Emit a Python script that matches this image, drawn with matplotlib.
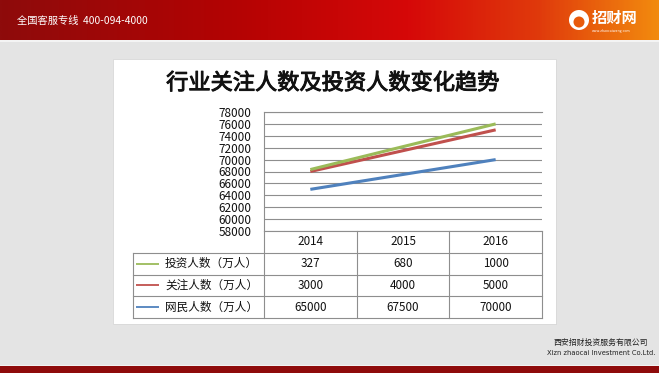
import numpy as np
import matplotlib
matplotlib.use("Agg")
import matplotlib.pyplot as plt
import matplotlib.patheffects as pe
from matplotlib.colors import LinearSegmentedColormap
from matplotlib.patches import Rectangle, Circle

plt.rcParams['font.family'] = ['Noto Sans CJK SC', 'DejaVu Sans']

# ---------------- data ----------------
years = ["2014", "2015", "2016"]
series_names = ["投资人数（万人）", "关注人数（万人）", "网民人数（万人）"]
touzi = [327, 680, 1000]       # 投资人数
guanzhu = [3000, 4000, 5000]   # 关注人数
wangmin = [65000, 67500, 70000]  # 网民人数
yticks = list(range(58000, 78001, 2000))
title = "行业关注人数及投资人数变化趋势"
header_text = "全国客服专线  400-094-4000"
company_cn = "西安招财投资服务有限公司"
company_en = "Xizn zhaocai Investment Co.Ltd."

colors = {"touzi": "#9bbb59", "guanzhu": "#c0504d", "wangmin": "#4f81bd"}

W, H = 659, 373
fig = plt.figure(figsize=(W / 100, H / 100), dpi=100)
fig.patch.set_facecolor("#e4e4e4")


def px_axes(x0, y0, x1, y1, **kw):
    return fig.add_axes([x0 / W, 1 - y1 / H, (x1 - x0) / W, (y1 - y0) / H], **kw)


# ---------------- slide decoration ----------------
bg = px_axes(0, 0, W, H)
bg.set_xlim(0, W)
bg.set_ylim(H, 0)
bg.axis("off")
bg.set_zorder(-5)

# header gradient
hdr = px_axes(0, 0, W, 40)
cmap = LinearSegmentedColormap.from_list(
    "hdr", [(0.0, "#8e0b0b"), (0.35, "#b30303"), (0.62, "#d60808"),
            (0.82, "#e03a0c"), (1.0, "#f28a0e")])
grad = np.linspace(0, 1, 400).reshape(1, -1)
hdr.imshow(grad, aspect="auto", cmap=cmap, extent=(0, W, 40, 0))
hdr.set_xlim(0, W)
hdr.set_ylim(40, 0)
hdr.axis("off")
hdr.text(17, 21, header_text, color="white", fontsize=7.4, va="center", ha="left")
# logo
hdr.add_patch(Circle((579, 20), 10, facecolor="white", edgecolor="none"))
hdr.add_patch(Circle((579, 22), 5.5, facecolor="#e85a0c", edgecolor="none"))
hdr.text(592, 18, "招财网", color="white", fontsize=11, fontweight="bold", va="center", ha="left")
hdr.text(592, 31, "www.zhaocaiwang.com", color="white", fontsize=2.5, va="center", ha="left")

bg.add_patch(Rectangle((0, 40), W, 2, facecolor="#f4f4f4", edgecolor="none"))
# bottom bar
bg.add_patch(Rectangle((0, 366), W, 7, facecolor="#8e0b0b", edgecolor="none"))
bg.add_patch(Rectangle((0, 365), W, 1, facecolor="#f2f2f2", edgecolor="none"))
bg.text(601, 342, company_cn, fontsize=5.7, ha="center", va="center", color="#222222")
bg.text(601, 353, company_en, fontsize=4.9, ha="center", va="center", color="#222222",
        family=["DejaVu Sans"])

# white chart box with faint shadow
bg.add_patch(Rectangle((114, 60), 443, 265, facecolor="#cfcfcf", edgecolor="none"))
bg.add_patch(Rectangle((113, 59), 443, 265, facecolor="white", edgecolor="#d8d8d8", lw=0.6))
bg.text(333, 83, title, fontsize=16, ha="center", va="center", color="#111111",
        fontweight="normal",
        path_effects=[pe.withStroke(linewidth=0.7, foreground="#111111")])

# ---------------- line chart ----------------
PL, PR, PT, PB = 264, 542, 112, 231
ax = px_axes(PL, PT, PR, PB)
x = np.arange(len(years))
base = np.array(wangmin)
mid = base + np.array(guanzhu)
top = mid + np.array(touzi)
ax.plot(x, base, color=colors["wangmin"], lw=2.2, solid_capstyle="butt", zorder=3)
ax.plot(x, mid, color=colors["guanzhu"], lw=2.2, solid_capstyle="butt", zorder=3)
ax.plot(x, top, color=colors["touzi"], lw=2.2, solid_capstyle="butt", zorder=3)
ax.set_xlim(-0.5, len(years) - 0.5)
ax.set_ylim(yticks[0], yticks[-1])
ax.set_yticks(yticks)
ax.set_yticklabels([str(v) for v in yticks], fontsize=8.5, color="#111111")
ax.set_xticks([])
ax.tick_params(axis="y", length=0, pad=9)
ax.grid(axis="y", color="#8e8e8e", lw=0.8)
for s in ["right", "bottom"]:
    ax.spines[s].set_visible(False)
ax.spines["top"].set_color("#8e8e8e")
ax.spines["top"].set_linewidth(0.8)
ax.spines["left"].set_color("#8e8e8e")
ax.spines["left"].set_linewidth(0.8)
ax.set_facecolor("none")

# ---------------- data table ----------------
TL, TT, TB = 133, 231, 318
unit = (PR - PL) / len(years)
tx0 = -0.5 - (PL - TL) / unit
tab = px_axes(TL, TT, PR, TB)
nrows = 1 + len(series_names)
tab.set_xlim(tx0, len(years) - 0.5)
tab.set_ylim(nrows, 0)
tab.axis("off")
lc = "#8e8e8e"
lw = 0.8
# vertical lines
for xv in np.arange(-0.5, len(years), 1.0):
    tab.plot([xv, xv], [0, nrows], color=lc, lw=lw, clip_on=False)
tab.plot([tx0, tx0], [1, nrows], color=lc, lw=lw, clip_on=False)
# horizontal lines
tab.plot([-0.5, len(years) - 0.5], [0, 0], color=lc, lw=lw, clip_on=False)
for r in range(1, nrows + 1):
    tab.plot([tx0, len(years) - 0.5], [r, r], color=lc, lw=lw, clip_on=False)
# header
for i, yr in enumerate(years):
    tab.text(i, 0.5, yr, ha="center", va="center", fontsize=8.4, color="#111111")
rows = [touzi, guanzhu, wangmin]
row_colors = [colors["touzi"], colors["guanzhu"], colors["wangmin"]]
for r, (name, vals, c) in enumerate(zip(series_names, rows, row_colors), start=1):
    lx0 = tx0 + 3 / unit
    lx1 = tx0 + 26 / unit
    tab.plot([lx0, lx1], [r + 0.5, r + 0.5], color=c, lw=1.3, solid_capstyle="butt")
    tab.text(tx0 + 32 / unit, r + 0.5, name, ha="left", va="center", fontsize=8.4,
             color="#111111")
    for i, v in enumerate(vals):
        tab.text(i, r + 0.5, str(v), ha="center", va="center", fontsize=8.4,
                 color="#111111")

fig.savefig("out.png", dpi=100, facecolor=fig.get_facecolor())
